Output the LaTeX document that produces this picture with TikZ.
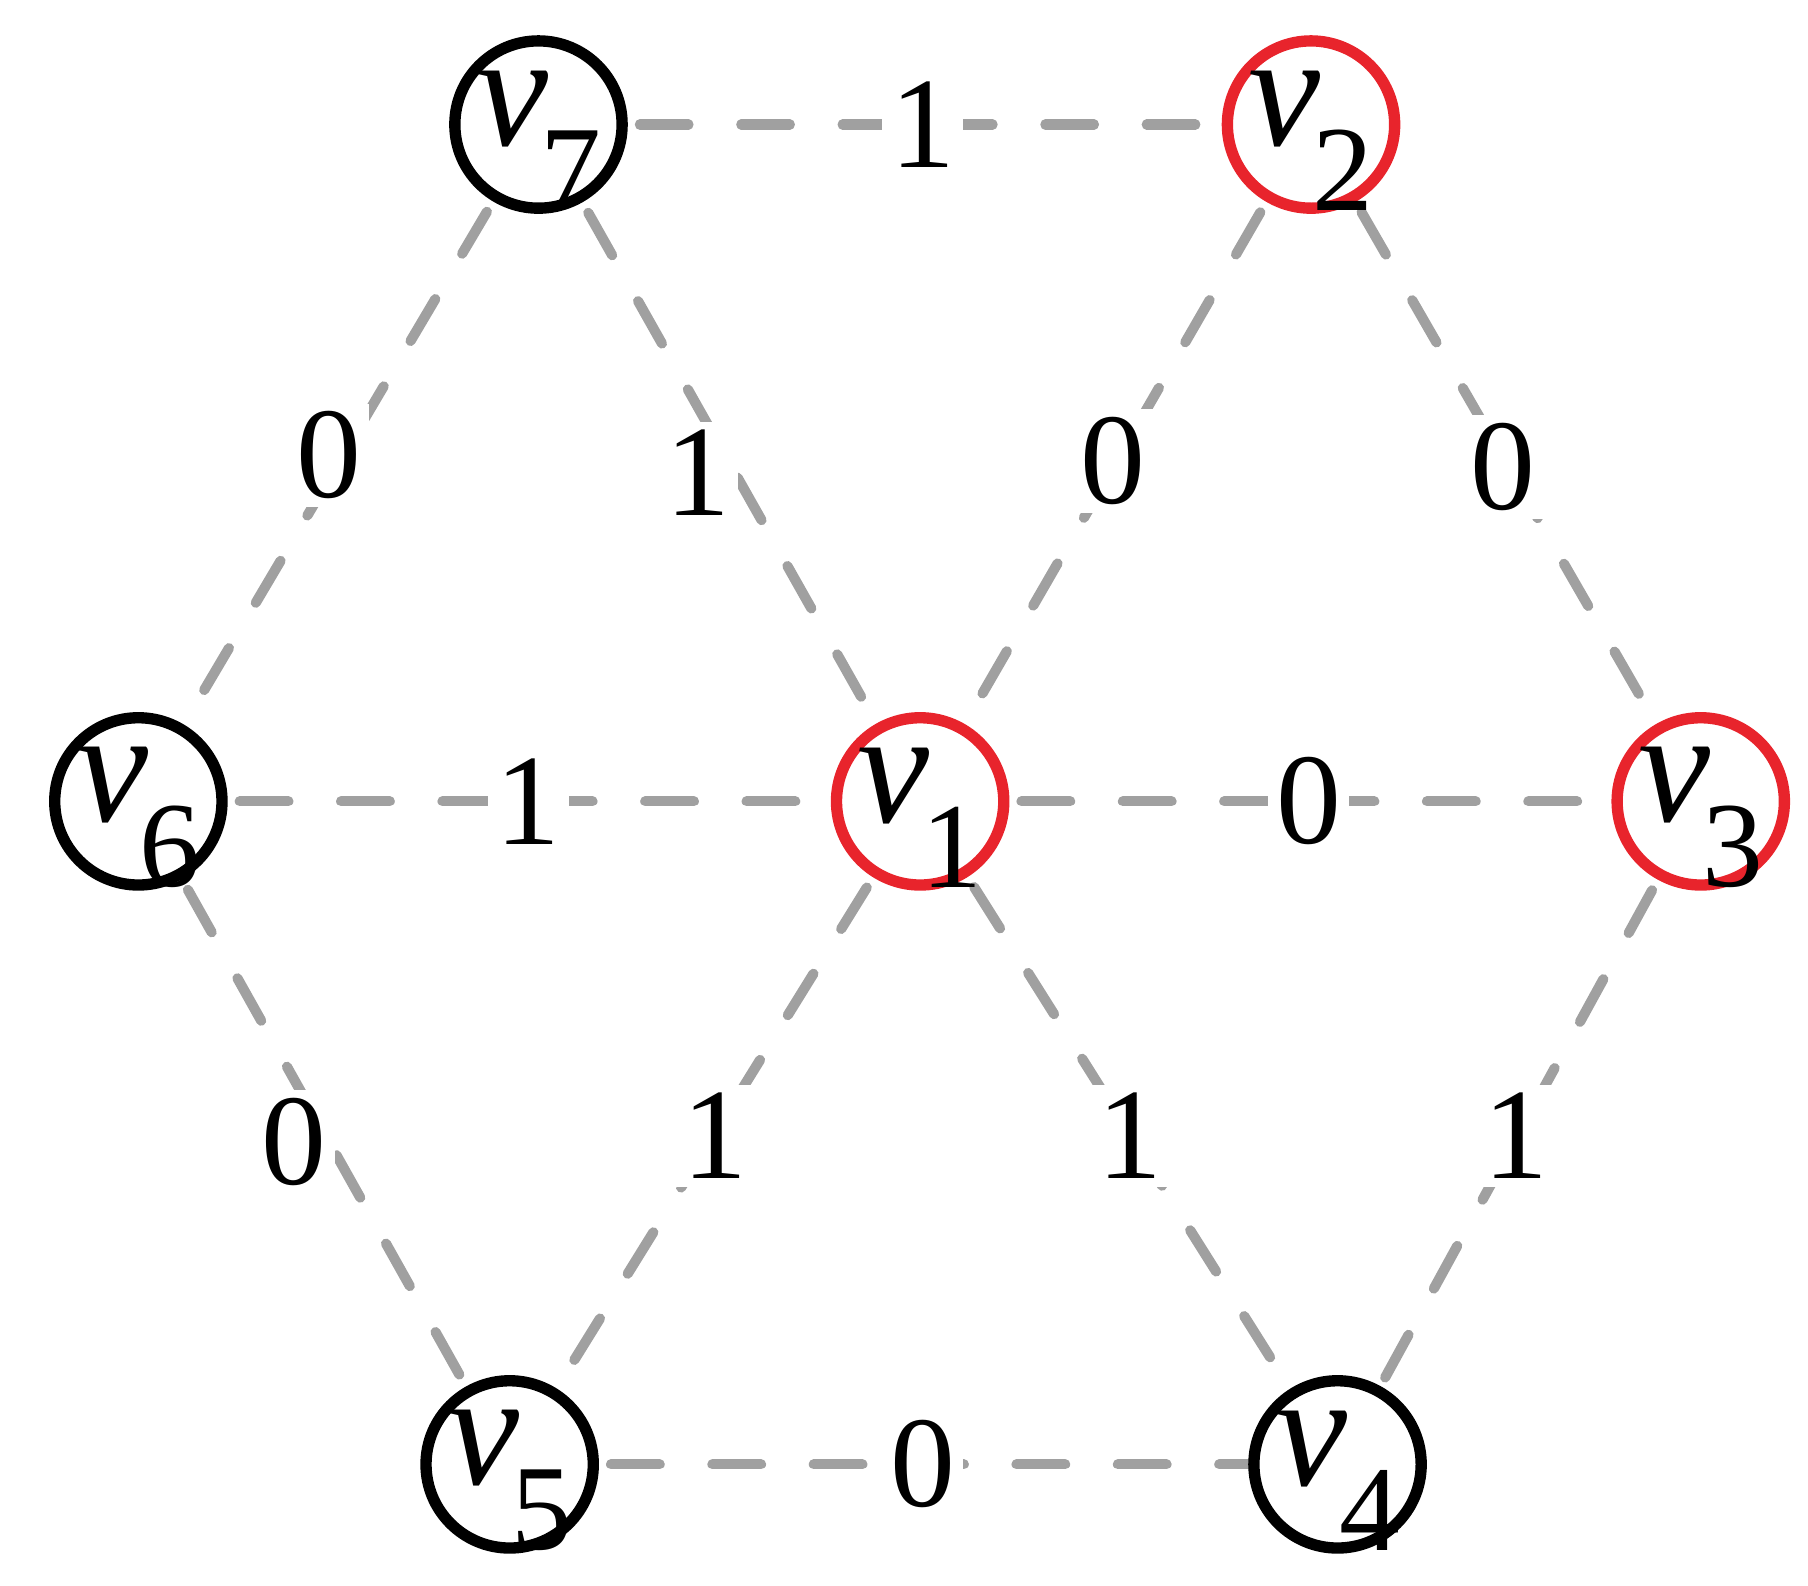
\documentclass[tikz,border=0pt]{standalone}
\usepackage{fontspec}
\setmainfont{Liberation Serif}
\definecolor{ered}{RGB}{232,36,44}
\definecolor{egray}{RGB}{160,160,160}
\newcommand{\vlab}[1]{\fontsize{40}{46}\selectfont\textit{v}\kern-0.05em\raisebox{-0.4em}{\fontsize{30}{34}\selectfont #1}}
\begin{document}
\begin{tikzpicture}[x=0.01cm,y=-0.01cm,
  vn/.style={circle,draw=black,line width=2.8pt,minimum size=1.45cm,inner sep=0pt,fill=white},
  rn/.style={vn,draw=ered},
  vt/.style={inner sep=0pt},
  ed/.style={draw=egray,line width=2.5pt,line cap=round,dash pattern=on 12pt off 13pt},
  wl/.style={fill=white,inner sep=2pt,font=\fontsize{32}{38}\selectfont}]
\useasboundingbox (0,0) rectangle (1568,1375);
\coordinate (p7) at (467,108); \coordinate (p2) at (1137,108);
\coordinate (p6) at (120,695); \coordinate (p1) at (798,695); \coordinate (p3) at (1475,695);
\coordinate (p5) at (442,1270); \coordinate (p4) at (1160,1270);
\foreach \a/\b in {7/2,7/6,7/1,2/1,2/3,6/1,1/3,6/5,1/5,1/4,3/4,5/4}
  \draw[ed] (p\a) -- (p\b);
\node[vn] (v7) at (p7) {};
\node[rn] (v2) at (p2) {};
\node[vn] (v6) at (p6) {};
\node[rn] (v1) at (p1) {};
\node[rn] (v3) at (p3) {};
\node[vn] (v5) at (p5) {};
\node[vn] (v4) at (p4) {};
\foreach \i in {1,...,7}
  \node[vt] (t\i) at ([yshift=-4pt]v\i.center) {\vlab{\i}};
\node[wl] (l72) at (800,108) {1};
\node[wl] (l76) at (285,395) {0};
\node[wl] (l71) at (605,410) {1};
\node[wl] (l21) at (965,400) {0};
\node[wl] (l23) at (1303,405) {0};
\node[wl] (l61) at (458,695) {1};
\node[wl] (l13) at (1135,695) {0};
\node[wl] (l65) at (255,990) {0};
\node[wl] (l15) at (620,985) {1};
\node[wl] (l14) at (980,985) {1};
\node[wl] (l34) at (1315,985) {1};
\node[wl] (l54) at (800,1270) {0};
\end{tikzpicture}
\end{document}
